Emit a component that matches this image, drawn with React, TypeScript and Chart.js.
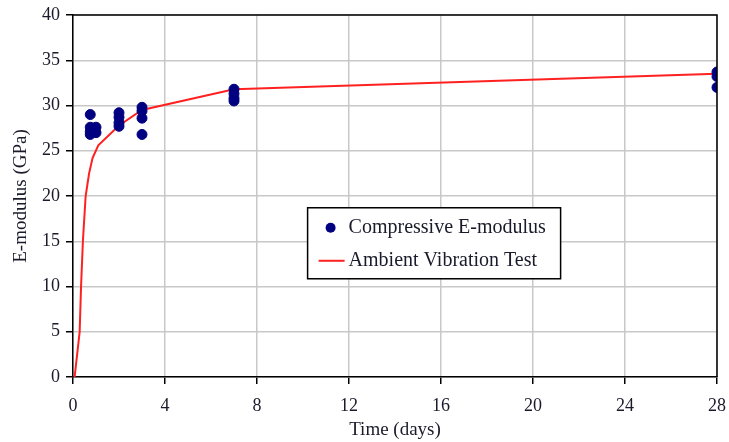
import React, { useEffect, useRef } from 'react';
import { Chart, registerables } from 'chart.js';
Chart.register(...registerables);

// Compressive E-modulus measurements (time in days, GPa)
const compTimes = [0.75, 0.75, 0.75, 0.75, 0.8, 1.0, 1.0, 2.0, 2.0, 2.0, 2.0, 3.0, 3.0, 3.0, 3.0, 7.0, 7.0, 7.0, 7.0, 28.0, 28.0, 28.0];
const compValues = [29.0, 27.6, 27.1, 26.8, 27.3, 27.6, 27.0, 29.2, 28.7, 28.1, 27.7, 29.8, 29.4, 28.6, 26.8, 31.8, 31.3, 30.8, 30.5, 33.7, 33.2, 32.0];

// Ambient vibration test curve
const avtTimes = [0.07, 0.29, 0.35, 0.43, 0.55, 0.7, 0.85, 1.1, 2.0, 3.0, 7.0, 28.0];
const avtValues = [0, 5, 10, 15, 20, 22.5, 24.2, 25.6, 27.8, 29.5, 31.8, 33.5];

const xTickValues = [0, 4, 8, 12, 16, 20, 24, 28];
const yTickValues = [0, 5, 10, 15, 20, 25, 30, 35, 40];

const seriesLabels = ['Compressive E-modulus', 'Ambient Vibration Test'];
const xTitle = 'Time (days)';
const yTitle = 'E-modulus (GPa)';

const FONT = '"Liberation Serif", "Times New Roman", serif';
const TEXT = '#1a1a2a';

const frameAndLegend = {
  id: 'frameAndLegend',
  afterDraw(chart: any) {
    const { ctx, chartArea } = chart;
    ctx.save();
    // top and right frame
    ctx.strokeStyle = '#000';
    ctx.lineWidth = 1.5;
    ctx.beginPath();
    ctx.moveTo(chartArea.left, chartArea.top);
    ctx.lineTo(chartArea.right, chartArea.top);
    ctx.lineTo(chartArea.right, chartArea.bottom);
    ctx.stroke();

    // legend box
    const xs = chart.scales.x;
    const ys = chart.scales.y;
    const bx = xs.getPixelForValue(10.2);
    const by = ys.getPixelForValue(18.7);
    const bw = 253;
    const bh = 71;
    ctx.fillStyle = '#fff';
    ctx.fillRect(bx, by, bw, bh);
    ctx.lineWidth = 1.5;
    ctx.strokeStyle = '#000';
    ctx.strokeRect(bx, by, bw, bh);

    const ds0 = chart.data.datasets[0];
    const ds1 = chart.data.datasets[1];
    ctx.font = '20px ' + FONT;
    ctx.textBaseline = 'middle';
    // entry 1
    ctx.beginPath();
    ctx.arc(bx + 23, by + 20, 5, 0, Math.PI * 2);
    ctx.fillStyle = ds0.backgroundColor;
    ctx.fill();
    ctx.fillStyle = TEXT;
    ctx.fillText(ds0.label, bx + 41, by + 20);
    // entry 2
    ctx.beginPath();
    ctx.strokeStyle = ds1.borderColor;
    ctx.lineWidth = 2;
    ctx.moveTo(bx + 11, by + 53);
    ctx.lineTo(bx + 37, by + 53);
    ctx.stroke();
    ctx.fillText(ds1.label, bx + 41, by + 53);
    ctx.restore();
  },
};

export default function App() {
  const ref = useRef<HTMLCanvasElement>(null);
  useEffect(() => {
    document.body.style.margin = '0';
    const compData = compTimes.map((t, i) => ({ x: t, y: compValues[i] }));
    const avtData = avtTimes.map((t, i) => ({ x: t, y: avtValues[i] }));
    const chart = new Chart(ref.current!, {
      type: 'scatter',
      data: {
        datasets: [
          {
            label: seriesLabels[0],
            data: compData,
            backgroundColor: '#000080',
            borderColor: '#000080',
            pointRadius: 5,
            showLine: false,
            order: 1,
          },
          {
            label: seriesLabels[1],
            data: avtData,
            borderColor: '#ff2020',
            backgroundColor: '#ff2020',
            borderWidth: 2,
            pointRadius: 0,
            showLine: true,
            tension: 0,
            order: 2,
          } as any,
        ],
      },
      options: {
        animation: false,
        responsive: false,
        maintainAspectRatio: false,
        layout: { padding: { top: 15, right: 12, left: 0, bottom: 0 } },
        plugins: { legend: { display: false }, tooltip: { enabled: false } },
        scales: {
          x: {
            type: 'linear',
            min: 0,
            max: 28,
            afterBuildTicks: (s: any) => { s.ticks = xTickValues.map((v) => ({ value: v })); },
            afterFit: (s: any) => { s.height = 65; s.paddingRight = 0; s.paddingLeft = 0; },
            ticks: { font: { family: FONT, size: 18 }, color: TEXT, padding: 11, maxRotation: 0 },
            grid: { color: '#c8c8c8', lineWidth: 1.5, tickColor: '#000', tickLength: 7, tickWidth: 1.5 },
            border: { display: true, color: '#000', width: 1.5 },
            title: { display: true, text: xTitle, font: { family: FONT, size: 19 }, color: TEXT, padding: { top: 0, bottom: 1 } },
          },
          y: {
            type: 'linear',
            min: 0,
            max: 40,
            afterBuildTicks: (s: any) => { s.ticks = yTickValues.map((v) => ({ value: v })); },
            afterFit: (s: any) => { s.width = 73; s.paddingTop = 0; s.paddingBottom = 0; },
            ticks: { font: { family: FONT, size: 18 }, color: TEXT, padding: 6 },
            grid: { color: '#c8c8c8', lineWidth: 1.5, tickColor: '#000', tickLength: 7, tickWidth: 1.5 },
            border: { display: true, color: '#000', width: 1.5 },
            title: { display: true, text: yTitle, font: { family: FONT, size: 19 }, color: TEXT, padding: { top: 10, bottom: 0 } },
          },
        },
      },
      plugins: [frameAndLegend],
    });
    return () => chart.destroy();
  }, []);
  return <canvas ref={ref} width={729} height={442} style={{ display: 'block' }} />;
}
